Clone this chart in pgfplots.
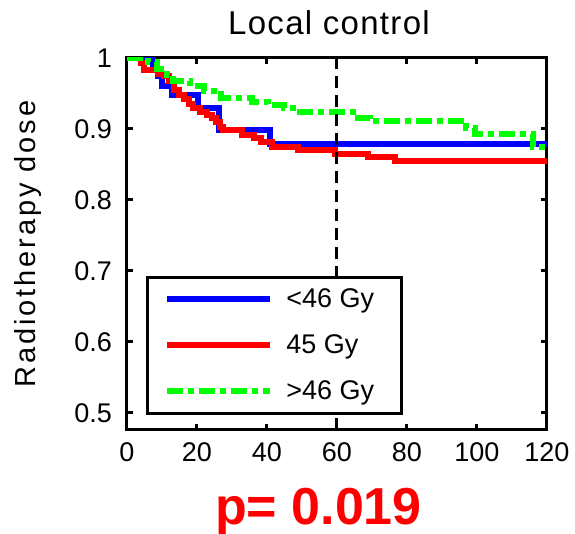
\documentclass[border=0pt]{standalone}
\usepackage{pgfplots}
\pgfplotsset{compat=1.18}
\usepackage{fontspec}
\setmainfont{Liberation Sans}
\newfontfamily\yfont[LetterSpace=10]{Liberation Sans}
\newfontfamily\tfont[LetterSpace=4]{Liberation Sans}
\definecolor{mblue}{RGB}{0,0,255}
\definecolor{mred}{RGB}{255,0,0}
\definecolor{mgreen}{RGB}{0,255,0}
\begin{document}
\begin{tikzpicture}
\path[use as bounding box] (-63.5pt,-52pt) rectangle (224pt,215pt);
\begin{axis}[
  at={(0pt,0pt)}, anchor=south west,
  scale only axis, width=210pt, height=186pt,
  xmin=0, xmax=120, ymin=0.476, ymax=1,
  xtick={0,20,40,60,80,100,120},
  ytick={0.5,0.6,0.7,0.8,0.9,1},
  yticklabels={0.5,0.6,0.7,0.8,0.9,1},
  /pgf/number format/assume math mode=true,
  tick align=inside, major tick length=3pt,
  axis line style={line width=1.5pt},
  every tick/.style={black, line width=1.5pt},
  tick label style={font=\fontsize{13.5}{14}\selectfont},
  xticklabel style={yshift=-3pt},
  yticklabel style={xshift=-4pt},
  title={Local control},
  title style={at={(0.5,1)}, anchor=center, yshift=11.5pt, xshift=-4pt, font=\tfont\fontsize{16.5}{18}\selectfont},
  ylabel={Radiotherapy dose},
  ylabel style={at={(axis description cs:-0.2357,0.5)}, anchor=center, font=\yfont\fontsize{14.5}{16}\selectfont},
  legend cell align=left,
  legend style={at={(0.045,0.04)}, anchor=south west, draw=black, line width=1.5pt,
    font=\fontsize{13.5}{14}\selectfont, inner xsep=8.5pt, inner ysep=3.75pt, row sep=8pt,
    nodes={inner xsep=1pt}, column sep=5.5pt},
  legend image code/.code={\draw[#1] (0pt,0pt) -- (51.5pt,0pt);},
]
\addplot[mblue, line width=3pt, const plot mark left] coordinates {
(0,1) (7.5,0.985) (9,0.974) (10,0.96) (12.8,0.948) (20.3,0.929) (26.3,0.899) (41,0.879) (120,0.879)};
\addlegendentry{<46 Gy\hspace*{4pt}}
\addplot[mred, line width=3pt, const plot mark left] coordinates {
(0,1) (4,0.993) (5,0.983) (9,0.978) (10.5,0.974) (12,0.967) (13.4,0.955) (14.8,0.948) (16.2,0.942) (17.6,0.935) (19,0.929) (21,0.924) (22.9,0.92) (24.4,0.915) (25.5,0.91) (26.6,0.903) (27.5,0.898) (32.8,0.891) (36.4,0.887) (38.4,0.882) (41.3,0.874) (49,0.870) (59.4,0.865) (68.9,0.861) (76.6,0.855) (120,0.855)};
\addlegendentry{45 Gy}
\addplot[mgreen, line width=3pt, const plot mark left, dash pattern=on 8pt off 2.5pt on 3pt off 2.5pt] coordinates {
(0,1) (6,0.995) (8.5,0.985) (11.3,0.976) (13.2,0.967) (18,0.96) (22,0.953) (27,0.943) (35.6,0.938) (40.4,0.934) (45,0.929) (48.5,0.924) (64.6,0.916) (69.5,0.911) (97,0.902) (99.5,0.893) (116,0.875) (120,0.875)};
\addlegendentry{>46 Gy\hspace*{4pt}}
\addplot[black, line width=1.5pt, dash pattern=on 6pt off 3.5pt, forget plot] coordinates {(60,0.476) (60,1)};
\end{axis}
\node[font=\bfseries\fontsize{26}{28}\selectfont, text=mred, anchor=base] at (95.75pt,-47.5pt) {p= 0.019};
\end{tikzpicture}
\end{document}
